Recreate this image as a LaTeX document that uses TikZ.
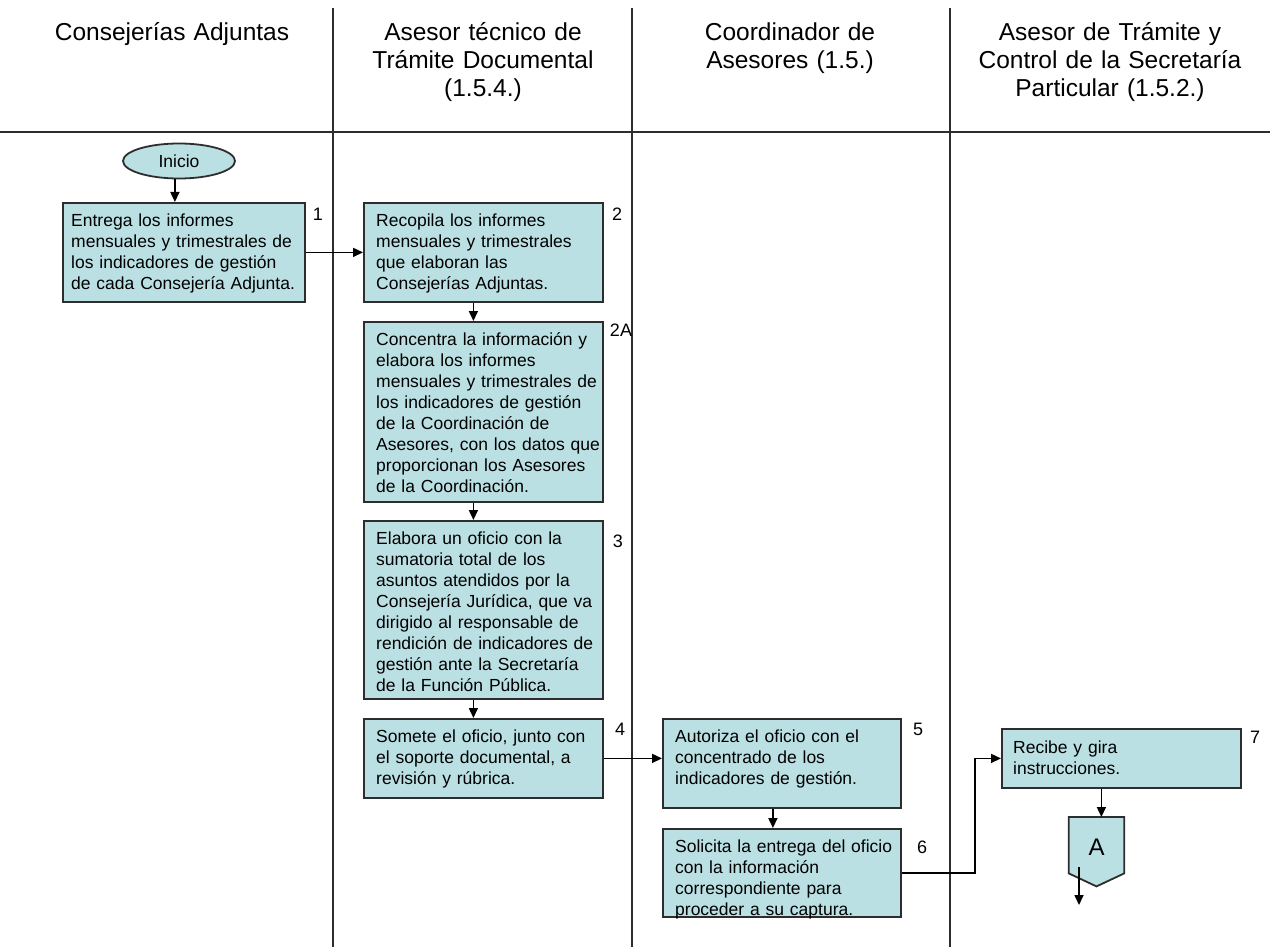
\documentclass[tikz,border=0pt]{standalone}
\usepackage{fontspec}
\setmainfont{Liberation Sans}
\usetikzlibrary{arrows.meta,shapes.geometric}

\definecolor{boxfill}{RGB}{187,224,227}
\definecolor{edge}{RGB}{45,45,45}

\tikzset{
  lane/.style={draw=edge, line width=1.4pt},
  proc/.style={draw=edge, fill=boxfill, line width=1.8pt, anchor=north west, inner sep=0pt},
  txt/.style={anchor=base west, inner sep=0pt, text width=260pt, align=left,
              font=\fontsize{17.5}{21}\selectfont},
  head/.style={anchor=base, inner sep=0pt, text width=320pt, align=center,
               font=\fontsize{24.5}{28}\selectfont},
  lbl/.style={anchor=base, inner sep=0pt, font=\fontsize{18}{21}\selectfont},
  arr/.style={draw=black, line width=1.6pt, -{Triangle[length=10pt,width=9pt]}},
  startnode/.style={ellipse, draw=edge, fill=boxfill, line width=1.8pt, inner sep=0pt,
                    minimum width=112pt, minimum height=35pt,
                    font=\fontsize{17.5}{21}\selectfont}
}

\begin{document}
\begin{tikzpicture}[x=1pt,y=-1pt]
\useasboundingbox (0,0) rectangle (1270,947);
\fill[white] (0,0) rectangle (1270,947);

% swimlane frame
\draw[lane] (0,132) -- (1270,132);
\draw[lane] (333,8) -- (333,947);
\draw[lane] (632,8) -- (632,947);
\draw[lane] (950,8) -- (950,947);

% lane headings
\node[head] (h1) at (172,41) {Consejerías Adjuntas};
\node[head] (h2) at (483,41) {Asesor técnico de\\Trámite Documental\\(1.5.4.)};
\node[head] (h3) at (790,41) {Coordinador de\\Asesores (1.5.)};
\node[head] (h4) at (1110,41) {Asesor de Trámite y\\Control de la Secretaría\\Particular (1.5.2.)};

% start
\node[startnode] (ini) at (179,161) {Inicio};

% process boxes
\node[proc, minimum width=242pt, minimum height=99pt]  (p1) at (62,202) {};
\node[proc, minimum width=239pt, minimum height=99pt]  (p2) at (363,202) {};
\node[proc, minimum width=239pt, minimum height=180pt] (p3) at (363,321) {};
\node[proc, minimum width=239pt, minimum height=178pt] (p4) at (363,520) {};
\node[proc, minimum width=239pt, minimum height=79pt]  (p5) at (363,718) {};
\node[proc, minimum width=238pt, minimum height=89pt]  (p6) at (662,718) {};
\node[proc, minimum width=238pt, minimum height=88pt]  (p7) at (662,828) {};
\node[proc, minimum width=239pt, minimum height=59pt]  (p8) at (1001,728) {};

% box texts
\node[txt] (t1) at ([xshift=9pt,yshift=-24pt]p1.north west)
  {Entrega los informes\\mensuales y trimestrales de\\los indicadores de gestión\\de cada Consejería Adjunta.};
\node[txt] (t2) at ([xshift=13pt,yshift=-24pt]p2.north west)
  {Recopila los informes\\mensuales y trimestrales\\que elaboran las\\Consejerías Adjuntas.};
\node[txt] (t3) at ([xshift=13pt,yshift=-24pt]p3.north west)
  {Concentra la información y\\elabora los informes\\mensuales y trimestrales de\\los indicadores de gestión\\de la Coordinación de\\Asesores, con los datos que\\proporcionan los Asesores\\de la Coordinación.};
\node[txt] (t4) at ([xshift=13pt,yshift=-24pt]p4.north west)
  {Elabora un oficio con la\\sumatoria total de los\\asuntos atendidos por la\\Consejería Jurídica, que va\\dirigido al responsable de\\rendición de indicadores de\\gestión ante la Secretaría\\de la Función Pública.};
\node[txt] (t5) at ([xshift=13pt,yshift=-24pt]p5.north west)
  {Somete el oficio, junto con\\el soporte documental, a\\revisión y rúbrica.};
\node[txt] (t6) at ([xshift=13pt,yshift=-24pt]p6.north west)
  {Autoriza el oficio con el\\concentrado de los\\indicadores de gestión.};
\node[txt] (t7) at ([xshift=13pt,yshift=-24pt]p7.north west)
  {Solicita la entrega del oficio\\con la información\\correspondiente para\\proceder a su captura.};
\node[txt] (t8) at ([xshift=12pt,yshift=-25pt]p8.north west)
  {Recibe y gira\\instrucciones.};

% step numbers
\node[lbl] (n1)  at (318,220) {1};
\node[lbl] (n2)  at (617,220) {2};
\node[lbl] (n2a) at (621,336) {2A};
\node[lbl] (n3)  at (618,547) {3};
\node[lbl] (n4)  at (620,735) {4};
\node[lbl] (n5)  at (918,735) {5};
\node[lbl] (n6)  at (922,853) {6};
\node[lbl] (n7)  at (1255,743) {7};

% off-page connector
\node[inner sep=0pt, minimum width=55pt, minimum height=56pt, anchor=north] (offA) at (1096.5,817) {};
\filldraw[draw=edge, fill=boxfill, line width=1.8pt]
  (offA.north west) -- (offA.north east) -- (offA.south east)
  -- ([yshift=-13pt]offA.south) -- (offA.south west) -- cycle;
\node[font=\fontsize{24}{28}\selectfont, inner sep=0pt] (offAtxt) at ([yshift=-2pt]offA.center) {A};

% connectors
\coordinate (c1) at ([xshift=-9pt]p1.north);
\draw[arr] (c1 |- ini.south) -- (c1);
\draw[arr] (p1.east) -- (p2.west);
\draw[arr] ([xshift=-10pt]p2.south) -- ([xshift=-10pt]p3.north);
\draw[arr] ([xshift=-10pt]p3.south) -- ([xshift=-10pt]p4.north);
\draw[arr] ([xshift=-10pt]p4.south) -- ([xshift=-10pt]p5.north);
\draw[arr] (p5.east) -- (p5.east -| p6.west);
\draw[arr] ([xshift=-9pt]p6.south) -- ([xshift=-9pt]p7.north);
\draw[arr] (p7.east) -- ++(73,0) |- (p8.west);
\coordinate (c8) at ([xshift=-20pt]p8.south);
\draw[arr] (c8) -- (c8 |- offA.north);
\coordinate (out1) at (1079,867);
\coordinate (out2) at (1079,905);
\draw[arr] (out1) -- (out2);
\end{tikzpicture}
\end{document}
